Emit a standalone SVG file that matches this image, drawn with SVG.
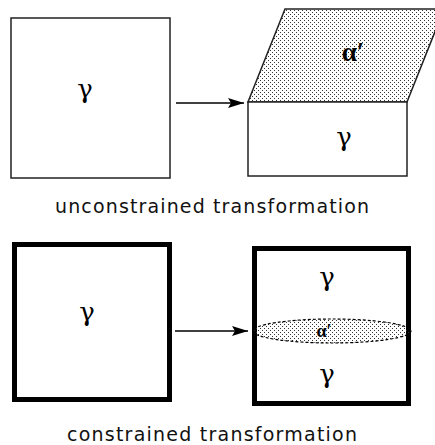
<svg xmlns="http://www.w3.org/2000/svg" width="435" height="445" viewBox="0 0 435 445">
  <defs>
    <pattern id="dots" x="0" y="0" width="4" height="4" patternUnits="userSpaceOnUse">
      <rect x="0" y="0" width="1" height="1" fill="#333"/>
      <rect x="2" y="2" width="1" height="1" fill="#333"/>
    </pattern>
    <marker id="arrow" markerWidth="16" markerHeight="10" refX="16" refY="5" orient="auto" markerUnits="userSpaceOnUse">
      <path d="M0,0 L16,5 L0,10 L3,5 Z" fill="#000"/>
    </marker>
    <style>
      .thin { fill: #fff; stroke: #222; stroke-width: 1.5; }
      .thick { fill: #fff; stroke: #000; stroke-width: 5; }
      .sym { font-family: "DejaVu Serif", "Liberation Serif", serif; font-size: 26px; fill: #000; text-anchor: middle; }
      .alpha { font-family: "Liberation Serif", "DejaVu Serif", serif; font-weight: bold; fill: #000; text-anchor: middle; }
      .label { font-family: "DejaVu Sans", "Liberation Sans", sans-serif; font-size: 19px; fill: #111; }
      .conn { stroke: #000; stroke-width: 1.5; fill: none; }
    </style>
  </defs>
  <rect width="435" height="445" fill="#fff"/>

  <g id="top-left-box">
    <rect class="thin" x="11" y="18" width="159" height="160"/>
    <text class="sym" x="85" y="98">γ</text>
  </g>

  <g id="top-right-result">
    <polygon points="248,102 407,102 444,9 285,9" fill="url(#dots)" stroke="#222" stroke-width="1.5"/>
    <text class="alpha" x="353" y="61" font-size="27">α′</text>
    <rect class="thin" x="248" y="102" width="159" height="74"/>
    <text class="sym" x="344" y="146">γ</text>
  </g>

  <g id="bottom-left-box">
    <rect class="thick" x="14.5" y="244.5" width="155" height="155"/>
    <text class="sym" x="87" y="321">γ</text>
  </g>

  <g id="bottom-right-result">
    <rect class="thick" x="254.5" y="248.5" width="154" height="155"/>
    <ellipse cx="332" cy="331" rx="79" ry="12" fill="url(#dots)" stroke="#000" stroke-width="1.2" stroke-dasharray="3,2"/>
    <text class="alpha" x="324" y="337" font-size="18">α′</text>
    <text class="sym" x="327" y="286">γ</text>
    <text class="sym" x="327" y="383">γ</text>
  </g>

  <g id="connectors">
    <line class="conn" x1="176" y1="103" x2="244" y2="103" marker-end="url(#arrow)"/>
    <line class="conn" x1="175" y1="331" x2="248" y2="331" marker-end="url(#arrow)"/>
  </g>

  <g id="labels">
    <text class="label" x="55" y="213" textLength="314" lengthAdjust="spacing">unconstrained transformation</text>
    <text class="label" x="67" y="441" textLength="290" lengthAdjust="spacing">constrained transformation</text>
  </g>
</svg>
